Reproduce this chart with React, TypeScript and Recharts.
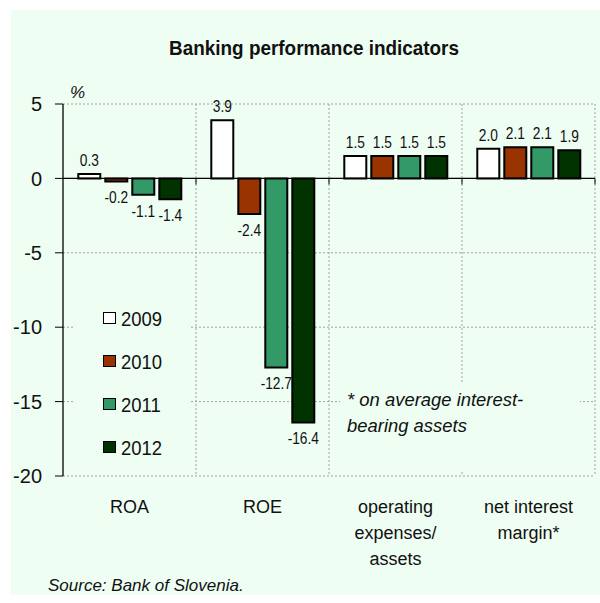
import React from 'react';
import {
  BarChart,
  Bar,
  XAxis,
  YAxis,
  CartesianGrid,
  ReferenceLine,
  LabelList,
  Legend,
} from 'recharts';

const FONT = "'Liberation Sans', Arial, sans-serif";
const BG = '#EEFEF3';

const categories = ['ROA', 'ROE', 'operating expenses/ assets', 'net interest margin*'];
const categoryLines = [['ROA'], ['ROE'], ['operating', 'expenses/', 'assets'], ['net interest', 'margin*']];

const years = ['2009', '2010', '2011', '2012'];
const values2009 = [0.3, 3.9, 1.5, 2.0];
const values2010 = [-0.2, -2.4, 1.5, 2.1];
const values2011 = [-1.1, -12.7, 1.5, 2.1];
const values2012 = [-1.4, -16.4, 1.5, 1.9];
const yearColors = ['#FFFFFF', '#993300', '#339966', '#003300'];
const yTicks = [-20, -15, -10, -5, 0, 5];

const seriesValues = [values2009, values2010, values2011, values2012];

const data = categories.map((c, i) => {
  const row: any = { category: c };
  years.forEach((y, k) => {
    row['y' + y] = seriesValues[k][i];
  });
  return row;
});

const ValueLabel = (props: any) => {
  const { x, y, width, height, value } = props;
  const top = Math.min(y, y + height);
  const bottom = Math.max(y, y + height);
  const ty = value >= 0 ? top - 8 : bottom + 22;
  return (
    <text
      transform={`translate(${x + width / 2},${ty}) scale(0.86,1)`}
      x={0}
      y={0}
      textAnchor="middle"
      fontSize={16}
      fontFamily={FONT}
      fill="#111"
    >
      {Number(value).toFixed(1)}
    </text>
  );
};

const CategoryTick = (props: any) => {
  const { x, y, payload } = props;
  const idx = categories.indexOf(payload.value);
  const lines = categoryLines[idx] || [payload.value];
  return (
    <g>
      {lines.map((l, i) => (
        <text
          key={i}
          x={x}
          y={y + 37 + i * 26}
          textAnchor="middle"
          fontSize={18}
          fontFamily={FONT}
          fill="#111"
        >
          {l}
        </text>
      ))}
    </g>
  );
};

const ZeroLine = (props: any) => {
  const { x1, x2, y1 } = props;
  const n = categories.length;
  const ticks = [];
  for (let i = 1; i <= n; i++) {
    const tx = x1 + ((x2 - x1) * i) / n;
    ticks.push(<line key={i} x1={tx} x2={tx} y1={y1} y2={y1 + 6} stroke="#000" strokeWidth={1} />);
  }
  return (
    <g>
      <line x1={x1} x2={x2} y1={y1} y2={y1} stroke="#000" strokeWidth={1.3} />
      {ticks}
    </g>
  );
};

const LegendContent = () => (
  <div style={{ paddingTop: 8.5 }}>
    {years.map((y, k) => (
      <div key={y} style={{ height: 43, display: 'flex', alignItems: 'center', marginLeft: 30 }}>
        <span
          style={{
            display: 'inline-block',
            width: 11,
            height: 10,
            background: yearColors[k],
            border: '1.5px solid #000',
            marginRight: 5,
          }}
        />
        <span
          style={{
            display: 'inline-block',
            fontFamily: FONT,
            fontSize: 21,
            color: '#111',
            lineHeight: '21px',
            transform: 'scaleX(0.88)',
            transformOrigin: 'left center',
          }}
        >
          {y}
        </span>
      </div>
    ))}
  </div>
);

export default function App() {
  return (
    <div style={{ position: 'absolute', left: 0, top: 0, width: 600, height: 603, background: '#fff' }}>
      <div style={{ position: 'absolute', left: 11, top: 10, width: 589, height: 585, background: BG }} />
      <div style={{ position: 'absolute', left: 0, top: 0 }}>
        <BarChart
          width={600}
          height={603}
          data={data}
          margin={{ top: 104, right: 5, bottom: 0, left: 0 }}
          barCategoryGap="11.5%"
          barGap={5}
        >
          <CartesianGrid
            stroke="#a0a0a0"
            strokeDasharray="2 2"
            verticalCoordinatesGenerator={(p: any) => {
              const off = p.offset;
              return categories.map((_, i) => off.left + (off.width * (i + 1)) / categories.length);
            }}
          />
          <XAxis
            dataKey="category"
            axisLine={false}
            tickLine={false}
            tickSize={0}
            tickMargin={0}
            height={127}
            interval={0}
            tick={<CategoryTick />}
          />
          <YAxis
            domain={[-20, 5]}
            ticks={yTicks}
            width={63}
            axisLine={{ stroke: '#000', strokeWidth: 1.3 }}
            tickLine={{ stroke: '#000' }}
            tickSize={8}
            tickMargin={13}
            tick={{ fontSize: 20, fill: '#111', fontFamily: FONT }}
            allowDataOverflow
          />
          <Legend
            layout="vertical"
            align="center"
            verticalAlign="middle"
            content={<LegendContent />}
            wrapperStyle={{ position: 'absolute', left: 73, top: 288, width: 118, height: 182, background: BG }}
          />
          {years.map((y, k) => (
            <Bar
              key={y}
              dataKey={'y' + y}
              name={y}
              fill={yearColors[k]}
              stroke="#000"
              strokeWidth={2}
              isAnimationActive={false}
            >
              <LabelList dataKey={'y' + y} content={<ValueLabel />} />
            </Bar>
          ))}
          <ReferenceLine y={0} shape={<ZeroLine />} />
        </BarChart>
      </div>
      <div
        style={{
          position: 'absolute',
          left: 14,
          top: 37,
          width: 600,
          textAlign: 'center',
          fontFamily: FONT,
          fontWeight: 'bold',
          fontSize: 21,
          lineHeight: '21px',
          color: '#111',
          whiteSpace: 'nowrap',
        }}
      >
        <span style={{ display: 'inline-block', transform: 'scaleX(0.9)' }}>Banking performance indicators</span>
      </div>
      <div
        style={{
          position: 'absolute',
          left: 70,
          top: 84,
          fontFamily: FONT,
          fontStyle: 'italic',
          fontSize: 17,
          lineHeight: '17px',
          color: '#111',
        }}
      >
        %
      </div>
      <div
        style={{
          position: 'absolute',
          left: 340,
          top: 383,
          width: 240,
          height: 88,
          background: BG,
          boxSizing: 'border-box',
          paddingLeft: 7,
          paddingTop: 4,
          fontFamily: FONT,
          fontStyle: 'italic',
          fontSize: 19,
          lineHeight: '26px',
          color: '#111',
        }}
      >
        <div style={{ transform: 'scaleX(0.97)', transformOrigin: 'left center' }}>* on average interest-</div>
        <div style={{ transform: 'scaleX(0.97)', transformOrigin: 'left center' }}>bearing assets</div>
      </div>
      <div
        style={{
          position: 'absolute',
          left: 48,
          top: 577,
          fontFamily: FONT,
          fontStyle: 'italic',
          fontSize: 17,
          lineHeight: '17px',
          color: '#111',
          whiteSpace: 'nowrap',
        }}
      >
        Source: Bank of Slovenia.
      </div>
    </div>
  );
}
